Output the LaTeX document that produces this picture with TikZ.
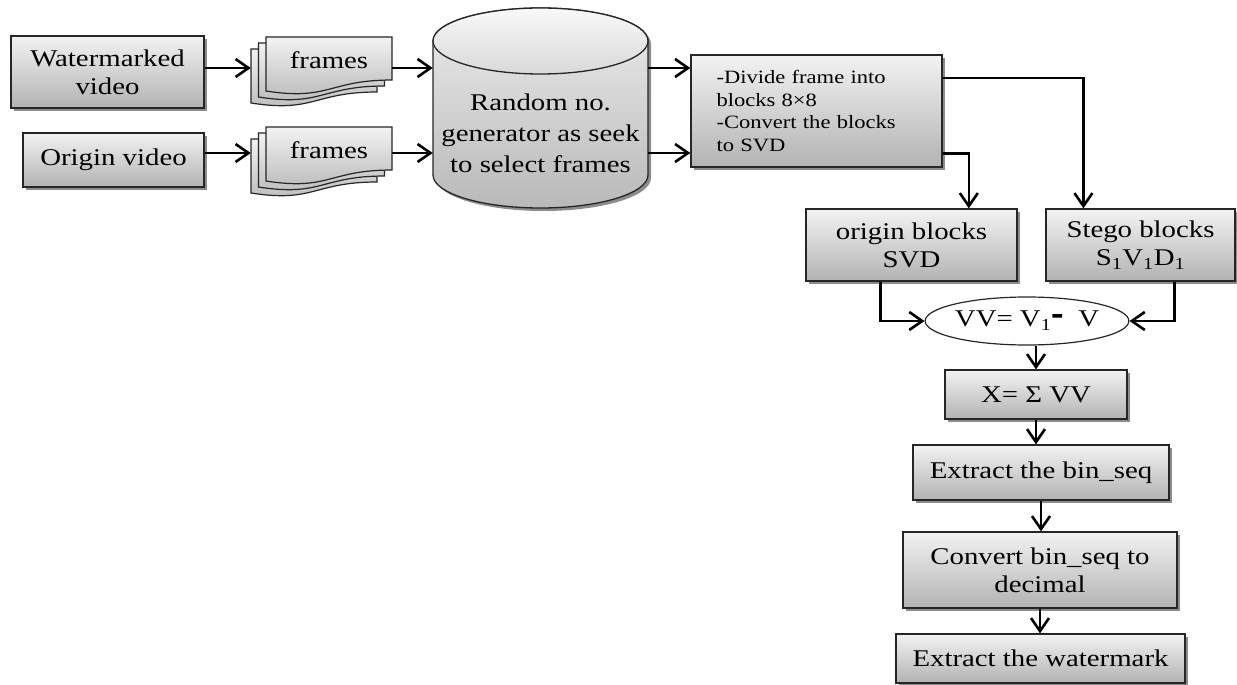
\documentclass[tikz,border=0pt]{standalone}
\usepackage{fontspec}
\setmainfont{Liberation Serif}[FakeStretch=1.2]
\usetikzlibrary{shapes.geometric,arrows.meta,shadows,calc}
\newcommand\fsz{\fontsize{24}{28}\selectfont}
\newcommand\fss{\fontsize{18.8}{22.5}\selectfont}
\tikzset{
    openhead/.tip={Straight Barb[length=13pt,width=18pt]},
    arr/.style={-{openhead}, line width=2.6pt},
    shd/.style={drop shadow={shadow xshift=3pt, shadow yshift=-3pt, fill=black!75, opacity=.6}},
    blk/.style={draw=black!85, line width=1.3pt, top color=gray!10, bottom color=gray!60, shd, align=center, font=\fsz, inner sep=1pt},
    pg/.style={draw=black!85, line width=1.2pt, top color=gray!10, bottom color=gray!55},
    pgnode/.style={inner sep=0pt, minimum width=126pt, minimum height=46pt},
    cylbody/.style={draw=black!85, line width=1.3pt, top color=gray!15, bottom color=gray!55, shd},
    cyltop/.style={draw=black!85, line width=1.3pt, top color=gray!5, bottom color=gray!30},
    cyltext/.style={inner sep=0pt, align=center, font=\fontsize{24}{31}\selectfont},
    oval/.style={ellipse, draw=black!85, line width=1.2pt, fill=white, inner sep=0pt, font=\fsz}
}
% stack of three pages, front page carries the text
\newcommand\framestack[4]{%
  \foreach \d in {2,1,0}{%
    \path[pg] (#2-7.5*\d,#3+6*\d) -- ++(126,0) -- ++(0,43) .. controls ++(-63,0) and ++(63,10) .. ++(-126,11) -- cycle;
    \node[pgnode] (#1-\d) at (#2-7.5*\d+63,#3+6*\d+23) {};
  }
  \node[pgnode, font=\fsz] (#1) at (#2+63,#3+23) {#4};
}

\begin{document}
\begin{tikzpicture}[x=1pt,y=-1pt]
\useasboundingbox (0,0) rectangle (1237,685);

\coordinate (r1) at (0,68);
\coordinate (r2) at (0,153);

% inputs
\node[blk, minimum width=193pt, minimum height=72pt] (wmv) at (107.5,72) {Watermarked\\ video};
\node[blk, minimum width=181pt, minimum height=54pt] (orv) at (113.5,160) {Origin video};
\framestack{frw}{266}{37}{frames}
\framestack{fro}{266}{127}{frames}

% random generator drum
\path[cylbody] (433,41) -- (433,175) arc[start angle=180, end angle=360, x radius=107.5pt, y radius=33pt]
  -- (648,41) arc[start angle=0, end angle=180, x radius=107.5pt, y radius=33pt] -- cycle;
\path[cyltop] (540.5,41) ellipse [x radius=107.5pt, y radius=33pt];
\node[cyltext, minimum width=215pt] (rng) at (540.5,133) {Random no.\\ generator as seek\\ to select frames};

% right column
\node[blk, font=\fss, align=left, text width=200pt, inner xsep=25.5pt, minimum width=251pt, minimum height=112pt] (dvd) at (816.5,111) {-Divide frame into\\ blocks 8×8\\ -Convert the blocks\\ to SVD};
\node[blk, minimum width=211pt, minimum height=72pt] (orb) at (911.5,245) {origin blocks\\ SVD};
\node[blk, minimum width=189pt, minimum height=72pt] (stb) at (1140.5,245) {Stego blocks\\ S\textsubscript{1}V\textsubscript{1}D\textsubscript{1}};
\node[oval, minimum width=202pt, minimum height=48pt] (vv) at (1027,321) {VV= V\textsubscript{1}\scalebox{1.3}[1.8]{\bfseries -}\ \ V};
\node[blk, minimum width=182pt, minimum height=49pt] (xsum) at (1036,394.5) {X= Σ VV};
\node[blk, minimum width=256pt, minimum height=55pt] (ebin) at (1041,472.5) {Extract the bin\_seq};
\node[blk, minimum width=274pt, minimum height=76pt] (cdec) at (1040,570) {Convert bin\_seq to\\ decimal};
\node[blk, minimum width=289pt, minimum height=49pt] (ewm) at (1040.5,658.5) {Extract the watermark};

% connectors
\draw[arr] (wmv.east |- r1) -- (frw-2.west |- r1);
\draw[arr] (orv.east |- r2) -- (fro-2.west |- r2);
\draw[arr] (frw.east |- r1) -- (rng.west |- r1);
\draw[arr] (fro.east |- r2) -- (rng.west |- r2);
\draw[arr] (rng.east |- r1) -- (dvd.west |- r1);
\draw[arr] (rng.east |- r2) -- (dvd.west |- r2);
\draw[arr] ($(dvd.north east)!0.21!(dvd.south east)$) -| ($(stb.north west)!0.2!(stb.north east)$);
\draw[arr] ($(dvd.north east)!0.875!(dvd.south east)$) -| ($(orb.north west)!0.77!(orb.north east)$);
\draw[arr] ($(orb.south west)!0.355!(orb.south east)$) |- (vv.west);
\draw[arr] ($(stb.south west)!0.68!(stb.south east)$) |- (vv.east);
\draw[arr] (vv.south -| xsum.north) -- (xsum.north);
\draw[arr] (xsum.south) -- (xsum.south |- ebin.north);
\draw[arr] (ebin.south) -- (ebin.south |- cdec.north);
\draw[arr] (cdec.south) -- (cdec.south |- ewm.north);
\end{tikzpicture}
\end{document}
